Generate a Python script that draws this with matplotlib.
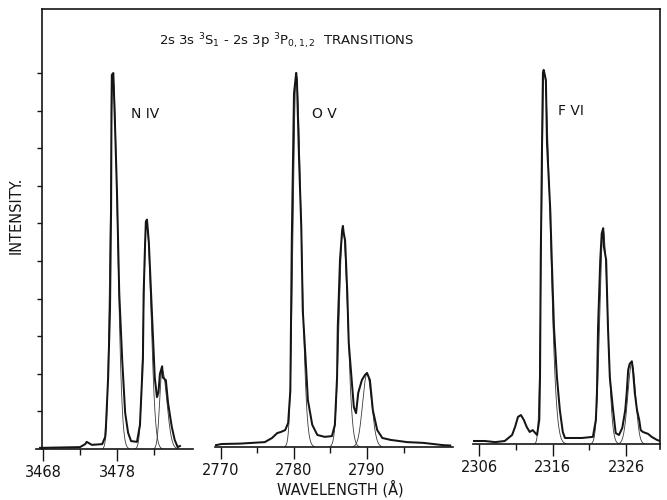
"""Redraw of the 2s3s 3S1 - 2s3p 3P0,1,2 multiplet scans for N IV, O V and F VI."""

import matplotlib

matplotlib.use("Agg")
import matplotlib.pyplot as plt
import numpy as np

FIG_W, FIG_H = 667, 500
PX_PER_UNIT = 37.6  # vertical size of one intensity tick

# measured traces, wavelength (A) and intensity (tick units)
niv_wl = [3467.6, 3473.0, 3473.7, 3473.9, 3474.6, 3476.0, 3476.4, 3476.5, 3476.8, 3477.05,
          3477.2, 3477.25, 3477.3, 3477.5, 3477.7, 3478.0, 3478.3, 3478.7, 3479.1, 3479.5,
          3479.9, 3480.7, 3481.1, 3481.5, 3481.6, 3481.8, 3481.9, 3482.05, 3482.3, 3482.6,
          3482.9, 3483.1, 3483.4, 3483.6, 3483.8, 3484.1, 3484.2, 3484.6, 3484.9, 3485.4,
          3485.8, 3486.2, 3486.5]
niv_int = [0.03, 0.05, 0.13, 0.19, 0.11, 0.13, 0.32, 0.59, 1.9, 3.7,
           6.4, 9.0, 9.95, 10.0, 8.8, 6.8, 4.15, 2.37, 0.96, 0.43,
           0.21, 0.19, 0.64, 2.37, 4.15, 5.5, 6.05, 6.1, 5.5, 4.15,
           2.8, 1.9, 1.38, 1.5, 2.0, 2.2, 1.9, 1.83, 1.22, 0.59,
           0.24, 0.05, 0.08]

ov_wl = [2769.3, 2770.1, 2772.6, 2776.0, 2777.0, 2777.7, 2778.2, 2778.8, 2779.2, 2779.5,
         2779.7, 2780.0, 2780.3, 2780.4, 2780.7, 2781.0, 2781.2, 2781.6, 2781.9, 2782.5,
         2783.2, 2784.2, 2785.2, 2785.6, 2785.9, 2786.0, 2786.3, 2786.6, 2786.7, 2786.8,
         2787.0, 2787.3, 2787.5, 2787.9, 2788.2, 2788.5, 2788.8, 2789.3, 2789.7, 2790.0,
         2790.4, 2790.8, 2791.4, 2792.1, 2793.2, 2795.5, 2797.7, 2800.4, 2801.4]
ov_int = [0.05, 0.08, 0.09, 0.13, 0.24, 0.37, 0.4, 0.45, 0.64, 1.5,
          5.5, 9.4, 9.95, 9.76, 7.6, 5.85, 3.64, 2.3, 1.25, 0.59,
          0.32, 0.27, 0.29, 0.59, 1.86, 3.2, 4.97, 5.77, 5.88, 5.7,
          5.5, 4.1, 2.77, 1.78, 1.06, 0.9, 1.44, 1.78, 1.91, 1.97,
          1.78, 0.98, 0.45, 0.24, 0.19, 0.13, 0.11, 0.05, 0.04]

fvi_wl = [2305.2, 2306.8, 2308.2, 2309.5, 2310.5, 2310.9, 2311.3, 2311.7, 2312.1, 2312.5,
          2312.9, 2313.3, 2313.9, 2314.2, 2314.3, 2314.4, 2314.6, 2314.7, 2314.8, 2315.1,
          2315.25, 2315.7, 2315.9, 2316.2, 2316.6, 2317.0, 2317.4, 2317.7, 2320.0, 2321.5,
          2321.9, 2322.05, 2322.2, 2322.5, 2322.7, 2322.9, 2323.0, 2323.3, 2323.55, 2323.8,
          2324.2, 2324.6, 2325.05, 2325.5, 2325.9, 2326.1, 2326.3, 2326.5, 2326.8, 2326.95,
          2327.2, 2327.5, 2327.8, 2328.0, 2328.3, 2329.0, 2329.5, 2330.2, 2330.6]
fvi_int = [0.08, 0.08, 0.05, 0.08, 0.24, 0.45, 0.72, 0.77, 0.64, 0.45,
           0.32, 0.37, 0.24, 0.64, 1.78, 4.9, 8.4, 9.87, 9.95, 9.68,
           8.0, 6.2, 4.9, 3.1, 1.78, 0.9, 0.32, 0.16, 0.16, 0.19,
           0.64, 1.36, 3.1, 4.9, 5.6, 5.74, 5.24, 4.9, 3.1, 1.78,
           0.98, 0.29, 0.24, 0.43, 0.9, 1.36, 1.97, 2.13, 2.2, 1.97,
           1.36, 0.9, 0.64, 0.37, 0.32, 0.27, 0.19, 0.11, 0.08]

# fitted line components: centre, peak, half widths (left / right)
niv_centers = [3477.46, 3482.0, 3484.1]
niv_heights = [9.9, 6.0, 2.1]
niv_hw_left = [0.45, 0.5, 0.4]
niv_hw_right = [0.7, 0.7, 0.75]

ov_centers = [2780.3, 2786.7, 2790.0]
ov_heights = [9.9, 5.8, 1.95]
ov_hw_left = [0.5, 0.6, 0.7]
ov_hw_right = [0.8, 0.75, 0.75]

fvi_centers = [2314.85, 2322.9, 2326.8]
fvi_heights = [9.9, 5.7, 2.15]
fvi_hw_left = [0.4, 0.55, 0.65]
fvi_hw_right = [0.95, 0.7, 0.6]

# axis ticks
niv_major = [3468, 3478]
niv_minor = [3473, 3483]
ov_major = [2770, 2780, 2790]
ov_minor = [2775, 2785, 2795]
fvi_major = [2306, 2316, 2326]
fvi_minor = [2311, 2321]

INK = "#151515"


def px_axes(fig, left, right, top, bottom):
    """Add axes placed by pixel edges (origin top-left)."""
    return fig.add_axes([left / FIG_W, 1 - bottom / FIG_H,
                         (right - left) / FIG_W, (bottom - top) / FIG_H])


def profile(x, center, height, hw_left, hw_right):
    w = np.where(x < center, hw_left, hw_right)
    return height * np.exp(-np.log(2) * ((x - center) / w) ** 2)


def draw_panel(fig, edges, xlim, wl, inten, comps, major, minor, label, label_pos):
    left, right, top, bottom = edges
    ax = px_axes(fig, left, right, top, bottom)
    ax.set_xlim(*xlim)
    ax.set_ylim(0, (bottom - top) / PX_PER_UNIT)
    ax.patch.set_alpha(0)
    for side in ("left", "right", "top"):
        ax.spines[side].set_visible(False)
    ax.spines["bottom"].set_linewidth(1.2)
    ax.spines["bottom"].set_color(INK)
    ax.set_yticks([])
    ax.set_xticks(major)
    ax.set_xticks(minor, minor=True)
    ax.tick_params(axis="x", which="major", direction="out", length=8.5, width=1.0,
                   color=INK, labelsize=10.5, labelcolor=INK, pad=3)
    ax.tick_params(axis="x", which="minor", direction="out", length=4.5, width=1.0,
                   color=INK)

    xs = np.linspace(xlim[0], xlim[1], 1200)
    for c, h, wl_, wr_ in zip(*comps):
        ys = profile(xs, c, h, wl_, wr_)
        mask = ys > 0.01
        ax.plot(xs[mask], ys[mask], color="#3a3a3a", lw=0.6, zorder=2)
    ax.plot(wl, inten, color=INK, lw=1.45, zorder=3, solid_joinstyle="round")

    ax.text(label_pos[0], label_pos[1], label, transform=fig.transFigure,
            fontsize=10, color=INK, ha="center", va="center")
    return ax


def main():
    plt.rcParams["font.family"] = "DejaVu Sans"
    fig = plt.figure(figsize=(FIG_W / 100, FIG_H / 100), dpi=100)

    # outer frame with the intensity ticks
    frame = px_axes(fig, 42, 660, 9, 449)
    frame.set_xlim(0, 1)
    frame.set_ylim(0, 440 / PX_PER_UNIT)
    frame.patch.set_alpha(0)
    frame.spines["bottom"].set_visible(False)
    for side in ("left", "top", "right"):
        frame.spines[side].set_linewidth(1.2)
        frame.spines[side].set_color(INK)
    frame.set_xticks([])
    frame.set_yticks(range(1, 11))
    frame.set_yticklabels([])
    frame.tick_params(axis="y", direction="out", length=3.5, width=1.0, color=INK)

    def fpos(x, y):
        return (x / FIG_W, 1 - y / FIG_H)

    draw_panel(fig, (36, 193, 9, 449), (3467.05, 3488.27), niv_wl, niv_int,
               (niv_centers, niv_heights, niv_hw_left, niv_hw_right),
               niv_major, niv_minor, "N IV", fpos(145, 114))
    draw_panel(fig, (215, 453, 7, 447), (2769.18, 2801.78), ov_wl, ov_int,
               (ov_centers, ov_heights, ov_hw_left, ov_hw_right),
               ov_major, ov_minor, "O V", fpos(324, 114))
    draw_panel(fig, (473, 660, 4, 444), (2305.18, 2330.63), fvi_wl, fvi_int,
               (fvi_centers, fvi_heights, fvi_hw_left, fvi_hw_right),
               fvi_major, fvi_minor, "F VI", fpos(571, 111))

    fig.text(*fpos(287, 41),
             r"2s 3s $^3$S$_1$ - 2s 3p $^3$P$_{0,1,2}$  TRANSITIONS",
             fontsize=9.5, color=INK, ha="center", va="center")
    fig.text(*fpos(16, 215), "INTENSITY.", rotation=90, fontsize=10.5,
             color=INK, ha="center", va="center")
    fig.text(*fpos(340, 489), "WAVELENGTH (Å)", fontsize=10.5, color=INK,
             ha="center", va="center")

    fig.savefig("out.png", dpi=100)
    plt.close(fig)


if __name__ == "__main__":
    main()
